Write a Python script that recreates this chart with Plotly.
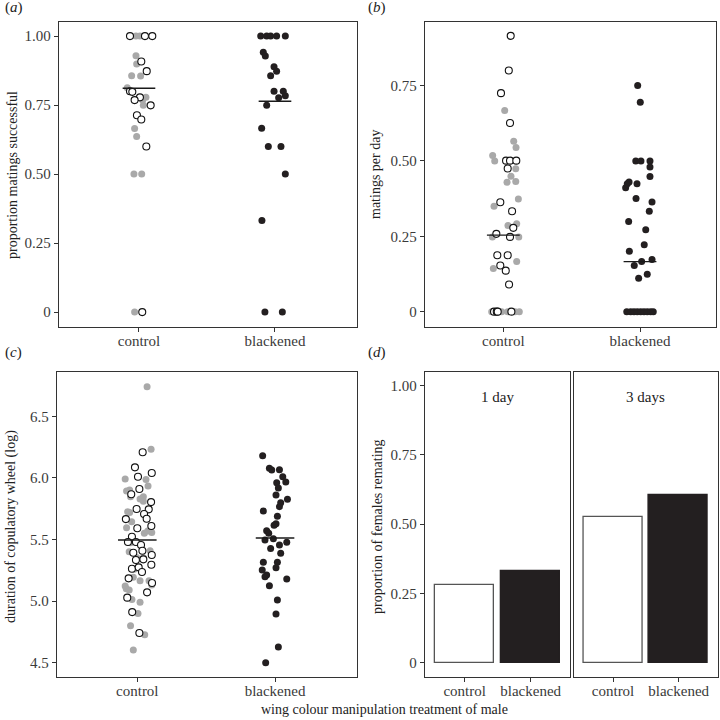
import plotly.graph_objects as go

# ---------------- data ----------------
categories = ["control", "blackened"]

# (a) proportion matings successful
a_grey_y = [1.0, 1.0, 0.929, 0.899, 0.856, 0.855, 0.813, 0.778, 0.768, 0.749, 0.665, 0.636, 0.5, 0.5, 0.0]
a_grey_jitter = [-0.022, 0.007, -0.022, -0.017, -0.054, 0.012, -0.086, 0.051, 0.027, 0.032, -0.032, -0.017, -0.037, 0.02, -0.032]
a_open_y = [1.0, 1.0, 1.0, 0.908, 0.873, 0.80, 0.798, 0.778, 0.768, 0.749, 0.713, 0.698, 0.6, 0.0]
a_open_jitter = [-0.066, 0.044, 0.098, 0.017, 0.057, -0.066, -0.049, 0.007, -0.032, 0.086, -0.015, 0.017, 0.054, 0.024]
a_black_y = [1.0, 1.0, 1.0, 1.0, 1.0, 0.941, 0.928, 0.889, 0.873, 0.856, 0.8, 0.8, 0.784, 0.777, 0.749,
             0.666, 0.6, 0.6, 0.5, 0.332, 0.0, 0.0]
a_black_jitter = [-0.105, -0.061, -0.032, 0.012, 0.076, -0.086, -0.071, -0.007, 0.012, -0.032, -0.007, 0.061,
                  0.076, 0.027, -0.061, -0.098, -0.049, 0.044, 0.076, -0.096, -0.074, 0.054]
a_means = [0.811, 0.764]

# (b) matings per day
b_grey_y = [0.667, 0.565, 0.545, 0.518, 0.5, 0.5, 0.474, 0.449, 0.429, 0.432, 0.374, 0.35, 0.286, 0.292,
            0.248, 0.248, 0.166, 0.143, 0.0, 0.0, 0.0, 0.0, 0.0]
b_grey_jitter = [0.010, 0.076, 0.093, -0.078, -0.063, 0.027, 0.091, 0.056, 0.027, 0.091, 0.110, -0.068, 0.034,
                 0.098, -0.080, 0.113, 0.098, -0.073, -0.085, -0.012, 0.032, 0.086, 0.117]
b_open_y = [0.915, 0.80, 0.725, 0.626, 0.501, 0.501, 0.501, 0.475, 0.363, 0.333, 0.278, 0.258, 0.248, 0.187,
            0.187, 0.153, 0.136, 0.09, 0.0, 0.0, 0.0, 0.0]
b_open_jitter = [0.054, 0.040, -0.017, 0.049, 0.020, 0.049, 0.095, 0.032, -0.022, 0.064, 0.073, -0.051, 0.049,
                 -0.044, 0.032, -0.022, 0.018, 0.042, -0.068, -0.048, -0.041, 0.059]
b_black_y = [0.75, 0.695, 0.5, 0.5, 0.5, 0.48, 0.448, 0.411, 0.424, 0.43, 0.424, 0.375, 0.364, 0.333, 0.299,
             0.272, 0.222, 0.2, 0.173, 0.166, 0.153, 0.124, 0.111, 0.0, 0.0, 0.0, 0.0, 0.0, 0.0, 0.0, 0.0, 0.0]
b_black_jitter = [-0.017, 0.002, -0.031, 0.007, 0.073, 0.073, 0.073, -0.105, -0.093, -0.080, -0.022, -0.029,
                  0.088, 0.068, -0.083, 0.042, 0.031, -0.078, 0.088, 0.012, -0.042, 0.053, -0.010,
                  -0.097, -0.068, -0.044, -0.020, 0.005, 0.029, 0.053, 0.078, 0.097]
b_means = [0.254, 0.166]

# (c) duration of copulatory wheel (log)
c_grey_y = [6.74, 6.232, 5.991, 5.988, 5.934, 5.902, 5.894, 5.848, 5.848, 5.829, 5.81, 5.726, 5.72, 5.645,
            5.596, 5.569, 5.55, 5.558, 5.474, 5.409, 5.4, 5.355, 5.352, 5.258, 5.193, 5.166, 5.166, 5.13,
            5.122, 5.10, 5.09, 5.014, 4.99, 4.9, 4.8, 4.727, 4.603]
c_grey_jitter = [0.071, 0.100, -0.088, 0.063, 0.078, -0.056, -0.078, -0.049, 0.044, 0.020, 0.044, -0.070,
                 -0.056, -0.041, -0.078, 0.076, 0.051, 0.105, -0.049, 0.093, -0.059, -0.005, 0.044, -0.022,
                 -0.029, 0.020, 0.085, 0.105, -0.088, -0.080, -0.059, -0.039, 0.020, 0.005, -0.049, 0.054,
                 -0.029]
c_open_y = [6.208, 6.086, 6.01, 6.04, 5.91, 5.867, 5.804, 5.745, 5.748, 5.666, 5.707, 5.669, 5.61, 5.591,
            5.523, 5.48, 5.48, 5.455, 5.409, 5.393, 5.374, 5.334, 5.339, 5.263, 5.274, 5.236, 5.185, 5.295,
            5.147, 5.071, 5.028, 4.911, 4.741]
c_open_jitter = [0.039, -0.017, 0.005, 0.105, 0.015, -0.044, 0.100, 0.083, -0.005, -0.083, 0.049, 0.068,
                 0.102, 0.0, -0.039, -0.068, -0.010, 0.027, 0.037, -0.029, 0.105, -0.010, 0.044, -0.039,
                 0.010, 0.034, -0.063, 0.102, 0.107, 0.071, -0.073, -0.037, 0.015]
c_black_y = [6.181, 6.078, 6.064, 6.067, 6.01, 5.961, 5.967, 5.918, 5.861, 5.826, 5.799, 5.767, 5.731, 5.688,
             5.629, 5.615, 5.572, 5.55, 5.496, 5.507, 5.477, 5.455, 5.428, 5.388, 5.315, 5.315, 5.271,
             5.252, 5.212, 5.198, 5.179, 5.125, 5.009, 4.895, 4.627, 4.5]
c_black_jitter = [-0.090, -0.041, -0.024, 0.032, 0.056, 0.012, 0.078, 0.024, 0.007, 0.090, 0.041, 0.032,
                  -0.085, 0.017, 0.007, -0.007, -0.061, -0.046, -0.073, -0.012, 0.085, 0.032, -0.032,
                  0.041, -0.085, 0.017, 0.007, -0.093, -0.061, -0.073, 0.085, -0.041, 0.017, 0.007, 0.024,
                  -0.068]
c_means = [5.496, 5.512]

# (d) proportion of females remating
d_facets = ["1 day", "3 days"]
d_control = [0.28, 0.525]
d_blackened = [0.33, 0.605]

# ---------------- styling ----------------
FONT = "Liberation Serif"
GREY = "#a9a9a9"
BLACK = "#231f20"
AXC = "#333333"
W, H = 720, 720


def px_dom(a, b, total):
    return [a / total, b / total]


def py_dom(top, bottom):
    return [1 - bottom / H, 1 - top / H]


fig = go.Figure()


def add_points(xa, ya, cat, ys, jit, kind):
    xs = [cat + j for j in jit]
    if kind == "grey":
        m = dict(size=7, color=GREY, line=dict(width=0))
    elif kind == "open":
        m = dict(size=7, color="white", line=dict(width=1.1, color="#111111"))
    else:
        m = dict(size=7, color=BLACK, line=dict(width=0))
    fig.add_trace(go.Scatter(x=xs, y=ys, mode="markers", marker=m, xaxis=xa, yaxis=ya,
                             showlegend=False, hoverinfo="y"))


def add_mean(xa, ya, means, half):
    for i, m in enumerate(means):
        c = i + 1
        fig.add_trace(go.Scatter(x=[c - half, c + half], y=[m, m], mode="lines",
                                 line=dict(color="#1a1a1a", width=1.4), xaxis=xa, yaxis=ya,
                                 showlegend=False, hoverinfo="skip"))


# (a)
add_points("x", "y", 1, a_grey_y, a_grey_jitter, "grey")
add_points("x", "y", 1, a_open_y, a_open_jitter, "open")
add_points("x", "y", 2, a_black_y, a_black_jitter, "black")
add_mean("x", "y", a_means, 0.12)
# (b)
add_points("x2", "y2", 1, b_grey_y, b_grey_jitter, "grey")
add_points("x2", "y2", 1, b_open_y, b_open_jitter, "open")
add_points("x2", "y2", 2, b_black_y, b_black_jitter, "black")
add_mean("x2", "y2", b_means, 0.12)
# (c)
add_points("x3", "y3", 1, c_grey_y, c_grey_jitter, "grey")
add_points("x3", "y3", 1, c_open_y, c_open_jitter, "open")
add_points("x3", "y3", 2, c_black_y, c_black_jitter, "black")
add_mean("x3", "y3", c_means, 0.14)
# (d)
for k, (xa, ya) in enumerate([("x4", "y4"), ("x5", "y5")]):
    fig.add_trace(go.Bar(x=[1, 2], y=[d_control[k], d_blackened[k]], width=0.9,
                         marker=dict(color=["white", BLACK],
                                     line=dict(color=["#555555", BLACK], width=1.3)),
                         xaxis=xa, yaxis=ya, showlegend=False))

tickfont = dict(family=FONT, size=15, color="#3a3a3a")
ax_common = dict(showline=True, linecolor=AXC, linewidth=1.3, mirror=True, ticks="outside",
                 ticklen=4, tickcolor=AXC, tickwidth=1, showgrid=False, zeroline=False,
                 tickfont=tickfont)

xcat = dict(tickvals=[1, 2], ticktext=categories, ticklabelstandoff=-4, **ax_common)

layout = dict(
    width=W, height=H, margin=dict(l=0, r=0, t=0, b=0),
    plot_bgcolor="white", paper_bgcolor="white", bargap=0,
    font=dict(family=FONT, size=15, color="#222222"),
    xaxis=dict(domain=px_dom(59, 357, W), range=[0.412, 2.603], anchor="y", **xcat),
    yaxis=dict(domain=py_dom(22, 327), range=[-0.054, 1.051], anchor="x",
               tickvals=[0, 0.25, 0.5, 0.75, 1.0], ticktext=["0", "0.25", "0.50", "0.75", "1.00"],
               **ax_common),
    xaxis2=dict(domain=px_dom(425, 716, W), range=[0.427, 2.556], anchor="y2", **xcat),
    yaxis2=dict(domain=py_dom(22, 327), range=[-0.051, 0.961], anchor="x2",
                tickvals=[0, 0.25, 0.5, 0.75], ticktext=["0", "0.25", "0.50", "0.75"], **ax_common),
    xaxis3=dict(domain=px_dom(57, 357, W), range=[0.417, 2.595], anchor="y3", **xcat),
    yaxis3=dict(domain=py_dom(372, 677), range=[4.384, 6.86], anchor="x3",
                tickvals=[4.5, 5.0, 5.5, 6.0, 6.5], ticktext=["4.5", "5.0", "5.5", "6.0", "6.5"],
                **ax_common),
    xaxis4=dict(domain=px_dom(425, 570.3, W), range=[0.4, 2.6], anchor="y4", **xcat),
    yaxis4=dict(domain=py_dom(372, 677), range=[-0.052, 1.049], anchor="x4",
                tickvals=[0, 0.25, 0.5, 0.75, 1.0], ticktext=["0", "0.25", "0.50", "0.75", "1.00"],
                **ax_common),
    xaxis5=dict(domain=px_dom(573.7, 718, W), range=[0.4, 2.6], anchor="y5", **xcat),
    yaxis5=dict(domain=py_dom(372, 677), range=[-0.052, 1.049], anchor="x5",
                showticklabels=False, **{k: v for k, v in ax_common.items() if k != "ticks"},
                ticks=""),
)
fig.update_layout(**layout)

ann = []
labfont = dict(family=FONT, size=15, color="#222222")
titlefont = dict(family=FONT, size=14, color="#222222")
# panel letters
for txt, x, y in [("(<i>a</i>)", 3, 8), ("(<i>b</i>)", 366, 8), ("(<i>c</i>)", 3, 352), ("(<i>d</i>)", 366, 352)]:
    ann.append(dict(text=txt, x=x / W, y=1 - y / H, xref="paper", yref="paper", showarrow=False,
                    xanchor="left", yanchor="middle", font=labfont))
# y titles
for txt, x, y in [("proportion matings successful", 12, 175), ("matings per day", 375, 175),
                  ("duration of copulatory wheel (log)", 11, 527),
                  ("proportion of females remating", 377, 527)]:
    ann.append(dict(text=txt, x=x / W, y=1 - y / H, xref="paper", yref="paper", showarrow=False,
                    textangle=-90, xanchor="center", yanchor="middle", font=titlefont))
# x title
ann.append(dict(text="wing colour manipulation treatment of male", x=384 / W, y=1 - 709 / H,
                xref="paper", yref="paper", showarrow=False, xanchor="center", yanchor="middle",
                font=titlefont))
# facet labels
for k, xa in enumerate(["x4", "x5"]):
    ya = "y4" if k == 0 else "y5"
    ann.append(dict(text=d_facets[k], x=1.5, y=0.957, xref=xa, yref=ya, showarrow=False,
                    xanchor="center", yanchor="middle", font=labfont))
fig.update_layout(annotations=ann)

fig.write_html("out.html", config={"displayModeBar": False},
               post_script="document.body.style.margin='0';document.body.style.overflow='hidden';")
